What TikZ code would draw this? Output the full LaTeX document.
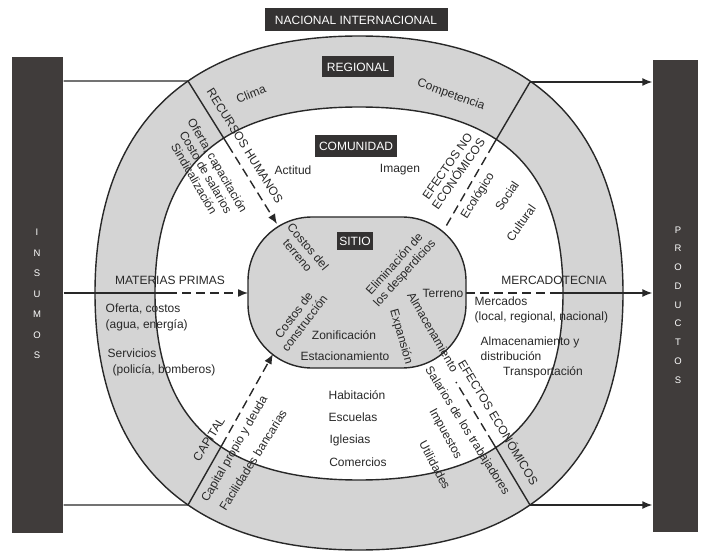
\documentclass[tikz,border=0pt]{standalone}
\usepackage{fontspec}
\setmainfont{Liberation Sans}
\usetikzlibrary{arrows.meta}
\definecolor{bardark}{RGB}{64,60,59}
\definecolor{boxdark}{RGB}{52,50,50}
\definecolor{ringgray}{RGB}{212,212,212}
\definecolor{ink}{RGB}{40,40,40}

\begin{document}
\begin{tikzpicture}[x=1pt,y=-1pt,line width=1.4pt,color=ink,
    txt/.style={font=\fontsize{12}{15.5}\selectfont},
    rtxt/.style={font=\fontsize{12}{13.5}\selectfont,align=center},
    levelbox/.style={fill=boxdark,text=white,font=\fontsize{12}{14}\selectfont},
    sidebar/.style={fill=bardark,draw=none},
    barletters/.style={text=white,align=center,font=\fontsize{9.5}{20.5}\selectfont},
    dashline/.style={dash pattern=on 9pt off 5pt},
    arrowhd/.style={-{Latex[length=10pt,width=8pt]}}]
  \tikzstyle{every node}+=[inner sep=0pt]
  \useasboundingbox (0,0) rectangle (701,553);
  % rings
  \draw[fill=ringgray] (623,293) .. controls (623,460) and (530.6,550) .. (359,550)
    .. controls (187.4,550) and (95,460) .. (95,293)
    .. controls (95,126) and (187.4,36) .. (359,36)
    .. controls (530.6,36) and (623,126) .. (623,293) -- cycle;
  \draw[fill=white] (563,293) .. controls (563,420) and (497.7,480) .. (359,480)
    .. controls (220.3,480) and (155,420) .. (155,293)
    .. controls (155,166) and (220.3,107) .. (359,107)
    .. controls (497.7,107) and (563,166) .. (563,293) -- cycle;
  \node[draw,fill=ringgray,minimum width=218pt,minimum height=151pt,rounded corners=64pt] (sitio) at (357,292.5) {};
  % side bars
  \node[sidebar,minimum width=51pt,minimum height=476pt] (insumos) at (37.5,295) {};
  \node[sidebar,minimum width=45pt,minimum height=472pt] (productos) at (675.5,296) {};
  \node[barletters] (insumostxt) at (37,294) {I\\N\\S\\U\\M\\O\\S};
  \node[barletters,font=\fontsize{9.5}{18.75}\selectfont] (productostxt) at (678,305) {P\\R\\O\\D\\U\\C\\T\\O\\S};
  % line ends
  \coordinate (rh0) at (188,81);
  \coordinate (rh1) at (228,145);
  \coordinate (rh2) at (277,224);
  \coordinate (mp1) at (168,293);
  \coordinate (mp2) at (248,293);
  \coordinate (cp0) at (188,505);
  \coordinate (cp1) at (222,445);
  \coordinate (cp2) at (273,354);
  \coordinate (ef0) at (530,82);
  \coordinate (ef1) at (493,145);
  \coordinate (ef2) at (445,228);
  \coordinate (mk1) at (556,293);
  \coordinate (mk2) at (466,293);
  \coordinate (ee0) at (530,505);
  \coordinate (ee1) at (493,443);
  \coordinate (ee2) at (456,382);
  % connectors
  \draw (insumos.east |- rh0) -- (rh0) -- (rh1);
  \draw[dashline,arrowhd] (rh1) -- (rh2);
  \draw (insumos.east |- mp1) -- (mp1);
  \draw[dashline,arrowhd] (mp1) -- (mp2);
  \draw (insumos.east |- cp0) -- (cp0) -- (cp1);
  \draw[dashline,arrowhd] (cp1) -- (cp2);
  \draw[arrowhd] (ef0) -- (productos.west |- ef0);
  \draw (ef0) -- (ef1);
  \draw[dashline] (ef1) -- (ef2);
  \draw[dashline] (mk2) -- (mk1);
  \draw[arrowhd] (mk1) -- (productos.west |- mk1);
  \draw[arrowhd] (ee0) -- (productos.west |- ee0);
  \draw (ee0) -- (ee1);
  \draw[dashline] (ee1) -- (ee2);
  % level boxes
  \node[levelbox,minimum width=183pt,minimum height=23pt] (nacional) at (356,20) {NACIONAL INTERNACIONAL};
  \node[levelbox,minimum width=72pt,minimum height=21pt] (regional) at (358,67) {REGIONAL};
  \node[levelbox,minimum width=82pt,minimum height=22pt] (comunidad) at (356,146) {COMUNIDAD};
  \node[levelbox,minimum width=36pt,minimum height=18pt] (sitiolbl) at (355,241) {SITIO};
  % regional ring
  \node[txt,rotate=22] (clima) at (251,94) {Clima};
  \node[txt,rotate=-20] (competencia) at (451,95) {Competencia};
  \node[rtxt,rotate=-58] (rechum) at (245,146) {RECURSOS HUMANOS};
  \node[rtxt,rotate=-60] (rhlist) at (206,172) {Oferta, capacitaci\'on\\Costo de salarios\\Sindicalizaci\'on};
  \node[rtxt,rotate=55] (efno) at (453,170) {EFECTOS NO\\ECON\'OMICOS};
  \node[rtxt,rotate=58] (ecologico) at (478,196) {Ecol\'ogico};
  \node[txt] (matprim) at (170,280) {MATERIAS PRIMAS};
  \node[txt,align=left,anchor=west] (oferta) at (105,317.5) {Oferta, costos\\(agua, energ\'ia)};
  \node[txt,align=left,anchor=west] (servicios) at (107,362.5) {Servicios\\\hspace*{5pt}(polic\'ia, bomberos)};
  \node[txt] (mercadotec) at (554,280) {MERCADOTECNIA};
  \node[txt,align=left,anchor=west] (mercados) at (474,310) {Mercados\\(local, regional, nacional)};
  \node[txt,align=left,anchor=west] (almacdist) at (480,348.5) {Almacenamiento y\\distribuci\'on};
  \node[txt] (transport) at (543,372) {Transportaci\'on};
  \node[rtxt,rotate=58] (capital) at (209,439) {CAPITAL};
  \node[rtxt,rotate=60] (capprop) at (235,449) {Capital propio y deuda};
  \node[rtxt,rotate=58] (facil) at (253,460) {Facilidades bancarias};
  \node[rtxt,rotate=-59] (efecon) at (499,422) {EFECTOS ECON\'OMICOS};
  \node[rtxt,rotate=-58] (salarios) at (467,431) {Salarios de los trabajadores};
  \node[rtxt,rotate=-61] (impuestos) at (445,434) {Impuestos};
  \node[rtxt,rotate=-62] (utilidades) at (435,465) {Utilidades};
  % community ring
  \node[txt] (actitud) at (293,170) {Actitud};
  \node[txt] (imagen) at (400,170) {Imagen};
  \node[rtxt,rotate=56] (social) at (507,196) {Social};
  \node[rtxt,rotate=55] (cultural) at (521,223) {Cultural};
  \node[txt] (habitacion) at (357,395) {Habitaci\'on};
  \node[txt] (escuelas) at (353,417) {Escuelas};
  \node[txt] (iglesias) at (350,440) {Iglesias};
  \node[txt] (comercios) at (358,462) {Comercios};
  % site
  \node[rtxt,rotate=-50] (costoster) at (303,251) {Costos del\\terreno};
  \node[rtxt,rotate=53] (costoscon) at (299,319) {Costos de\\construcci\'on};
  \node[txt] (zonif) at (344,335) {Zonificaci\'on};
  \node[txt] (estac) at (345,356) {Estacionamiento};
  \node[rtxt,rotate=48] (elimin) at (400,269) {Eliminaci\'on de\\los desperdicios};
  \node[txt] (terreno) at (443,293) {Terreno};
  \node[rtxt,rotate=-60] (almacen) at (433,332) {Almacenamiento};
  \node[rtxt,rotate=-74] (expansion) at (401,337) {Expansi\'on};
\end{tikzpicture}
\end{document}
